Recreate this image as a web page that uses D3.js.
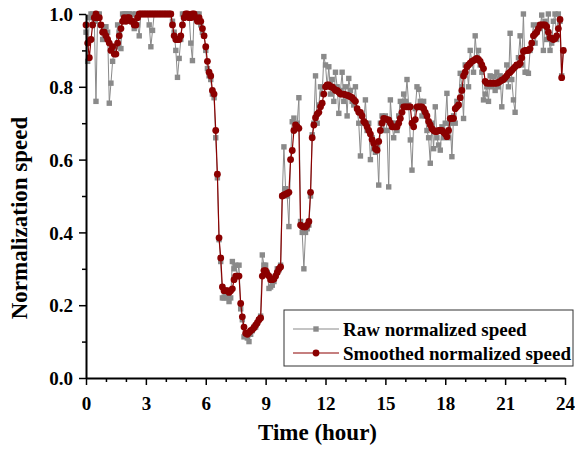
<!DOCTYPE html>
<html>
<head>
<meta charset="utf-8">
<script src="https://cdnjs.cloudflare.com/ajax/libs/d3/7.8.5/d3.min.js"></script>
<style>
  body { margin: 0; background: #fff; }
  text { font-family: "Liberation Serif", "Times New Roman", serif; font-weight: bold; fill: #000; }
</style>
</head>
<body>
<svg width="575" height="450"></svg>
<script>
// 5-minute samples, one row per hour
const stepHours = 5 / 60;

const rawSpeed = [
  0.95, 0.87, 0.99, 1.0, 1.0, 0.98, 0.76, 1.0, 1.0, 0.97, 0.93, 0.96,
  0.965, 0.95, 0.755, 0.81, 0.87, 0.90, 0.91, 0.97, 0.95, 0.905, 1.0, 1.0,
  1.0, 1.0, 1.0, 0.98, 1.0, 0.96, 1.0, 0.97, 0.94, 1.0, 1.0, 1.0,
  1.0, 1.0, 0.97, 0.91, 0.955, 1.0, 1.0, 1.0, 1.0, 1.0, 1.0, 1.0,
  1.0, 1.0, 1.0, 1.0, 0.98, 0.95, 0.90, 0.826, 0.878, 0.93, 1.0, 1.0,
  1.0, 1.0, 1.0, 0.92, 0.872, 1.0, 1.0, 1.0, 1.0, 0.97, 0.95, 0.94,
  0.90, 0.85, 0.83, 0.82, 0.78, 0.77, 0.66, 0.55, 0.38, 0.32, 0.22, 0.22,
  0.23, 0.22, 0.21, 0.22, 0.32, 0.30, 0.31, 0.28, 0.31, 0.19, 0.16, 0.113,
  0.118, 0.11, 0.10, 0.12, 0.13, 0.14, 0.14, 0.15, 0.16, 0.17, 0.338, 0.31,
  0.31, 0.29, 0.246, 0.25, 0.255, 0.265, 0.28, 0.30, 0.297, 0.31, 0.50, 0.635,
  0.52, 0.50, 0.416, 0.60, 0.704, 0.714, 0.69, 0.70, 0.77, 0.43, 0.40, 0.30,
  0.40, 0.41, 0.42, 0.50, 0.668, 0.70, 0.83, 0.70, 0.75, 0.80, 0.78, 0.883,
  0.86, 0.80, 0.855, 0.78, 0.82, 0.76, 0.84, 0.80, 0.727, 0.79, 0.84, 0.76,
  0.80, 0.72, 0.823, 0.79, 0.76, 0.75, 0.80, 0.74, 0.70, 0.61, 0.72, 0.70,
  0.764, 0.68, 0.70, 0.60, 0.66, 0.63, 0.62, 0.64, 0.53, 0.70, 0.72, 0.68,
  0.72, 0.68, 0.525, 0.764, 0.70, 0.66, 0.70, 0.68, 0.72, 0.76, 0.75, 0.78,
  0.76, 0.82, 0.75, 0.654, 0.571, 0.70, 0.74, 0.80, 0.793, 0.76, 0.72, 0.76,
  0.72, 0.68, 0.66, 0.59, 0.70, 0.63, 0.745, 0.66, 0.64, 0.626, 0.69, 0.66,
  0.70, 0.782, 0.66, 0.70, 0.608, 0.72, 0.70, 0.76, 0.75, 0.837, 0.80, 0.713,
  0.86, 0.855, 0.80, 0.90, 0.87, 0.84, 0.94, 0.88, 0.90, 0.86, 0.84, 0.764,
  0.78, 0.80, 0.76, 0.83, 0.80, 0.828, 0.79, 0.84, 0.80, 0.83, 0.745, 0.82,
  0.82, 0.86, 0.80, 0.947, 0.82, 0.764, 0.73, 0.86, 0.88, 0.94, 0.86, 1.0,
  0.84, 0.84, 0.837, 0.90, 0.92, 0.97, 0.92, 0.95, 0.97, 0.96, 0.997, 0.90,
  0.98, 0.93, 1.0, 0.90, 0.92, 0.98, 1.0, 0.93, 1.0, 0.98, 0.83, 0.90
];

const smoothSpeed = [
  0.97, 0.92, 0.88, 0.93, 0.97, 0.99, 1.0, 0.99, 0.99, 0.97, 0.95, 0.95,
  0.94, 0.93, 0.92, 0.90, 0.91, 0.89, 0.89, 0.92, 0.94, 0.96, 0.98, 0.99,
  0.98, 0.99, 0.99, 0.98, 0.98, 0.97, 0.97, 0.99, 1.0, 1.0, 1.0, 1.0,
  1.0, 1.0, 1.0, 1.0, 1.0, 1.0, 1.0, 1.0, 1.0, 1.0, 1.0, 1.0,
  1.0, 1.0, 1.0, 1.0, 0.97, 0.94, 0.93, 0.93, 0.93, 0.94, 0.97, 0.99,
  1.0, 1.0, 0.99, 0.99, 1.0, 1.0, 0.99, 0.98, 0.99, 0.98, 0.96, 0.94,
  0.91, 0.87, 0.84, 0.83, 0.79, 0.78, 0.68, 0.56, 0.385, 0.33, 0.25, 0.24,
  0.24, 0.24, 0.235, 0.24, 0.245, 0.27, 0.28, 0.28, 0.28, 0.205, 0.168, 0.14,
  0.123, 0.12, 0.125, 0.13, 0.133, 0.138, 0.145, 0.152, 0.16, 0.165, 0.28, 0.295,
  0.295, 0.285, 0.28, 0.27, 0.27, 0.272, 0.28, 0.29, 0.30, 0.305, 0.50, 0.503,
  0.505, 0.507, 0.51, 0.60, 0.625, 0.68, 0.695, 0.69, 0.686, 0.42, 0.416, 0.415,
  0.415, 0.42, 0.43, 0.51, 0.66, 0.695, 0.715, 0.725, 0.73, 0.745, 0.755, 0.78,
  0.80, 0.805, 0.805, 0.80, 0.80, 0.795, 0.79, 0.79, 0.785, 0.78, 0.78, 0.78,
  0.778, 0.777, 0.775, 0.773, 0.77, 0.765, 0.76, 0.74, 0.73, 0.73, 0.72, 0.705,
  0.70, 0.69, 0.68, 0.67, 0.655, 0.645, 0.63, 0.626, 0.65, 0.68, 0.70, 0.713,
  0.712, 0.71, 0.709, 0.70, 0.69, 0.69, 0.69, 0.69, 0.70, 0.713, 0.73, 0.745,
  0.745, 0.745, 0.745, 0.745, 0.70, 0.69, 0.71, 0.745, 0.745, 0.745, 0.745, 0.74,
  0.73, 0.72, 0.705, 0.695, 0.685, 0.68, 0.677, 0.677, 0.68, 0.68, 0.68, 0.675,
  0.67, 0.663, 0.68, 0.713, 0.713, 0.713, 0.74, 0.745, 0.75, 0.77, 0.79, 0.83,
  0.84, 0.855, 0.86, 0.865, 0.87, 0.872, 0.875, 0.878, 0.875, 0.87, 0.86, 0.85,
  0.815, 0.81, 0.81, 0.81, 0.81, 0.81, 0.81, 0.81, 0.812, 0.815, 0.818, 0.82,
  0.825, 0.83, 0.837, 0.84, 0.845, 0.85, 0.855, 0.86, 0.86, 0.865, 0.88, 0.897,
  0.90, 0.90, 0.90, 0.905, 0.92, 0.94, 0.945, 0.95, 0.96, 0.97, 0.97, 0.97,
  0.97, 0.965, 0.95, 0.935, 0.933, 0.93, 0.933, 0.94, 0.96, 0.985, 0.825, 0.90
];

const xTicks = [0, 3, 6, 9, 12, 15, 18, 21, 24];
const yTicks = [0, 0.2, 0.4, 0.6, 0.8, 1.0];
const legendLabels = ["Raw normalized speed", "Smoothed normalized speed"];

const rawColor = "#8a8a8a";
const smoothColor = "#8b0000";

const svg = d3.select("svg");
const margin = { top: 14, right: 10, bottom: 72, left: 86 };
const height = +svg.attr("height");
const innerWidth = 479;
const innerHeight = height - margin.top - margin.bottom;

const xScale = d3.scaleLinear().domain([0, 24]).range([0, innerWidth]);
const yScale = d3.scaleLinear().domain([0, 1]).range([innerHeight, 0]);

const g = svg.append("g").attr("transform", `translate(${margin.left},${margin.top})`);

const toPoints = arr => arr.map((v, i) => ({ t: i * stepHours, v }));
const rawData = toPoints(rawSpeed);
const smoothData = toPoints(smoothSpeed);

const line = d3.line().x(d => xScale(d.t)).y(d => yScale(d.v));

// raw series
g.append("path")
  .datum(rawData)
  .attr("fill", "none")
  .attr("stroke", rawColor)
  .attr("stroke-width", 1)
  .attr("d", line);

g.selectAll(".raw")
  .data(rawData)
  .enter()
  .append("rect")
  .attr("class", "raw")
  .attr("x", d => xScale(d.t) - 2.7)
  .attr("y", d => yScale(d.v) - 2.7)
  .attr("width", 5.4)
  .attr("height", 5.4)
  .attr("fill", rawColor);

// smoothed series
g.append("path")
  .datum(smoothData)
  .attr("fill", "none")
  .attr("stroke", smoothColor)
  .attr("stroke-width", 1.2)
  .attr("d", line);

g.selectAll(".smooth")
  .data(smoothData)
  .enter()
  .append("circle")
  .attr("class", "smooth")
  .attr("cx", d => xScale(d.t))
  .attr("cy", d => yScale(d.v))
  .attr("r", 3.4)
  .attr("fill", smoothColor);

// axes
const xAxis = d3.axisBottom(xScale).tickValues(d3.range(0, 25, 1)).tickSize(0);
const xAxisG = g.append("g").attr("transform", `translate(0,${innerHeight})`).call(xAxis);
xAxisG.selectAll(".tick text").remove();
xAxisG.select(".domain").attr("stroke", "#000").attr("stroke-width", 2);
xAxisG.selectAll(".tick line")
  .attr("stroke", "#000")
  .attr("stroke-width", 1.5)
  .attr("y2", d => (d % 3 === 0 ? 7 : 4));
xAxisG.selectAll(".tick")
  .filter(d => xTicks.includes(d))
  .append("text")
  .attr("y", 32)
  .attr("text-anchor", "middle")
  .attr("font-size", 19)
  .text(d => d);

const yAxis = d3.axisLeft(yScale).tickValues(d3.range(0, 11).map(i => i / 10)).tickSize(0);
const yAxisG = g.append("g").call(yAxis);
yAxisG.selectAll(".tick text").remove();
yAxisG.select(".domain").attr("stroke", "#000").attr("stroke-width", 2);
yAxisG.selectAll(".tick line")
  .attr("stroke", "#000")
  .attr("stroke-width", 1.5)
  .attr("x2", (d, i) => (i % 2 === 0 ? -7 : -4));
yAxisG.selectAll(".tick")
  .filter(d => yTicks.some(t => Math.abs(t - d) < 1e-9))
  .append("text")
  .attr("x", -13)
  .attr("dy", "0.35em")
  .attr("text-anchor", "end")
  .attr("font-size", 19)
  .text(d => d3.format(".1f")(d));

// axis titles
g.append("text")
  .attr("x", innerWidth / 2 - 8)
  .attr("y", innerHeight + 62)
  .attr("text-anchor", "middle")
  .attr("font-size", 23)
  .text("Time (hour)");

g.append("text")
  .attr("transform", `translate(${-59},${innerHeight / 2 + 22}) rotate(-90)`)
  .attr("text-anchor", "middle")
  .attr("font-size", 23)
  .text("Normalization speed");

// legend
const legendG = svg.append("g").attr("transform", "translate(284,310)");
legendG.append("rect")
  .attr("width", 289)
  .attr("height", 56)
  .attr("fill", "#fff")
  .attr("stroke", "#333")
  .attr("stroke-width", 1);

const legendRows = legendG.selectAll(".legend")
  .data(legendLabels)
  .enter()
  .append("g")
  .attr("class", "legend")
  .attr("transform", (d, i) => `translate(0,${19 + i * 24})`);

legendRows.append("line")
  .attr("x1", 9)
  .attr("x2", 55)
  .attr("stroke", (d, i) => (i === 0 ? rawColor : smoothColor))
  .attr("stroke-width", 1.2);

legendRows.filter((d, i) => i === 0)
  .append("rect")
  .attr("x", 29.3)
  .attr("y", -2.7)
  .attr("width", 5.4)
  .attr("height", 5.4)
  .attr("fill", rawColor);

legendRows.filter((d, i) => i === 1)
  .append("circle")
  .attr("cx", 32)
  .attr("r", 3.4)
  .attr("fill", smoothColor);

legendRows.append("text")
  .attr("x", 59)
  .attr("dy", "0.35em")
  .attr("font-size", 19)
  .text(d => d);
</script>
</body>
</html>
